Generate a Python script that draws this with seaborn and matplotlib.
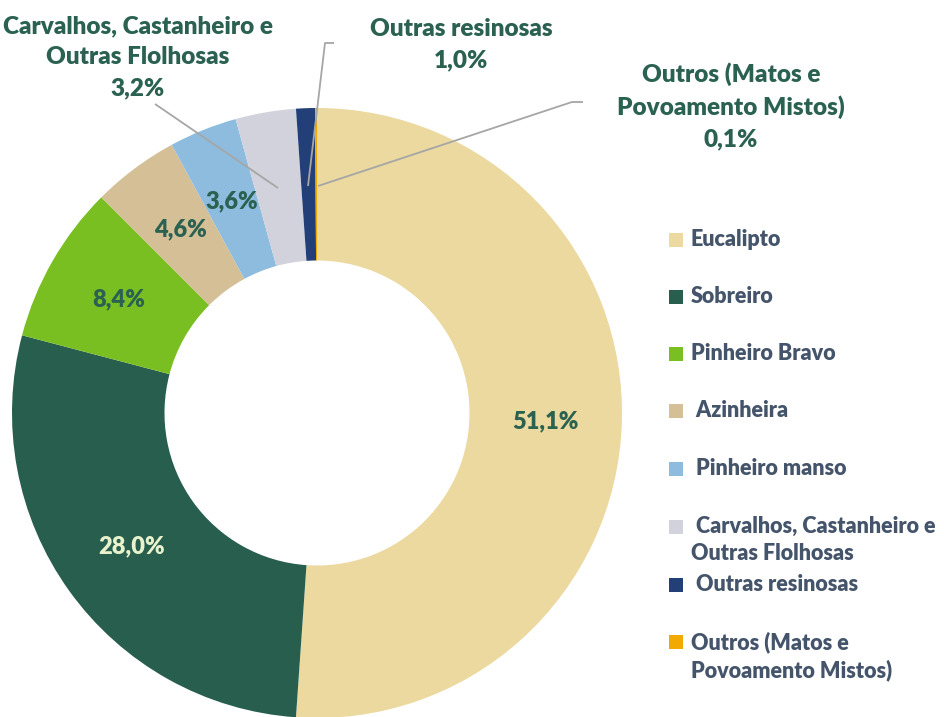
import matplotlib.pyplot as plt
import numpy as np
import seaborn as sns

sns.set_theme(style="white")
plt.rcParams['font.family'] = ['Lato', 'DejaVu Sans']

# data
species = ['Eucalipto', 'Sobreiro', 'Pinheiro Bravo', 'Azinheira', 'Pinheiro manso',
           'Carvalhos, Castanheiro e\nOutras Flolhosas', 'Outras resinosas',
           'Outros (Matos e\nPovoamento Mistos)']
legend_labels = ['Eucalipto', 'Sobreiro', 'Pinheiro Bravo', ' Azinheira', ' Pinheiro manso',
                 ' Carvalhos, Castanheiro e\nOutras Flolhosas', ' Outras resinosas',
                 'Outros (Matos e\nPovoamento Mistos)']
shares = [51.1, 28.0, 8.4, 4.6, 3.6, 3.2, 1.0, 0.1]
colors = ['#EBD99F', '#285E4E', '#7ABF22', '#D5BF97', '#8EBCDE', '#D2D2DC', '#233F78', '#F2A900']

label_green = '#2A6150'
legend_grey = '#44546A'

fig = plt.figure(figsize=(9.45, 7.17), dpi=100)
ax = fig.add_axes([0, 0, 1, 1])

cx, cy, R = 317, 304, 305
wedges, _ = ax.pie(shares, colors=colors, startangle=90, counterclock=False,
                   radius=R, center=(cx, cy),
                   wedgeprops=dict(width=R * 0.5, linewidth=0))
ax.set_xlim(0, 945)
ax.set_ylim(0, 717)
ax.set_aspect('equal')
ax.axis('off')

def fmt(v):
    return f'{v:.1f}%'.replace('.', ',')

# labels inside the ring for the larger slices
for i, w in enumerate(wedges[:5]):
    mid = np.deg2rad((w.theta1 + w.theta2) / 2)
    x = cx + 0.75 * R * np.cos(mid)
    y = cy + 0.75 * R * np.sin(mid)
    col = '#E8F2CC' if i == 1 else label_green
    ax.text(x, y, fmt(shares[i]), ha='center', va='center', color=col,
            fontsize=17, fontweight='heavy')

# outside labels with leader lines
outside = [
    (138, 660, [(155, 613), (278, 529)]),
    (461, 672, [(334, 674), (325, 674), (308, 531)]),
    (731, 611, [(583, 615), (572, 615), (318, 531)]),
]
for i, (tx, ty, pts) in zip([5, 6, 7], outside):
    ax.text(tx, ty, species[i] + '\n' + fmt(shares[i]), ha='center', va='center',
            multialignment='center', color=label_green, fontsize=17.5,
            fontweight='heavy', linespacing=1.5)
    xs, ys = zip(*pts)
    ax.plot(xs, ys, color='#A6A6A6', lw=1.3, solid_capstyle='butt')

# legend
legend_y = [477, 420, 363, 306, 248, 190, 132, 75]
for name, col, ly in zip(legend_labels, colors, legend_y):
    ax.scatter([676], [ly], marker='s', s=110, color=col, linewidths=0)
    ax.text(691, ly + 11, name, ha='left', va='top', color=legend_grey,
            fontsize=15.5, fontweight='heavy', linespacing=1.38)

fig.savefig('out.png', dpi=100)
